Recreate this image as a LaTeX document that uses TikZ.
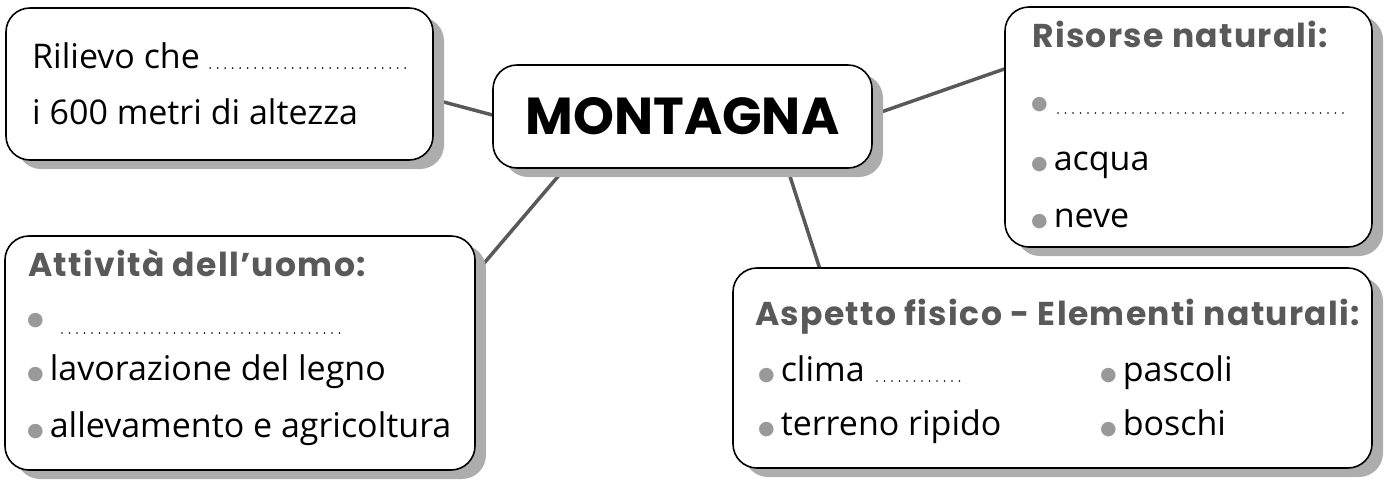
\documentclass[tikz,border=0pt]{standalone}
\usepackage{fontspec}
\setmainfont{Open Sans}
\newfontfamily\headfont[LetterSpace=4]{Poppins}
\newfontfamily\montfont{Poppins}
\newfontfamily\symfont{DejaVu Sans}
\usetikzlibrary{shadows,calc}
\pgfdeclarelayer{background}
\pgfsetlayers{background,main}
\newcommand\bul{{\color{black!40}\symfont\fontsize{19}{19}\selectfont\raisebox{0.5pt}{●}}\hspace{6pt}}
\tikzset{
  box/.style={draw=black, line width=1.6pt, rounded corners=24pt, fill=white,
    drop shadow={shadow xshift=11pt, shadow yshift=-9pt, fill=black!32, opacity=1},
    inner sep=0pt},
  link/.style={draw=black!65, line width=3.5pt},
  txt/.style={anchor=base west, inner sep=0pt, font=\fontsize{34}{34}\selectfont},
  head/.style={anchor=base west, inner sep=0pt, font=\headfont\bfseries\fontsize{33}{33}\selectfont, text=black!65},
  dotline/.style={draw=black, line width=1.8pt, line cap=round, dash pattern=on 0pt off 7.5pt},
}
\begin{document}
\begin{tikzpicture}[x=1pt,y=-1pt]
\useasboundingbox (0,0) rectangle (1388,483);
% boxes
\node[box, minimum width=427pt, minimum height=152pt] (ril) at (219.5,84) {};
\node[box, minimum width=379pt, minimum height=103pt,
      font=\montfont\bfseries\fontsize{52}{52}\selectfont] (mont) at (682.5,116.5) {MONTAGNA};
\node[box, minimum width=367pt, minimum height=240pt] (ris) at (1188.5,127) {};
\node[box, minimum width=470pt, minimum height=234pt] (att) at (240,353) {};
\node[box, minimum width=639pt, minimum height=200pt] (asp) at (1052.5,368) {};
% connectors
\begin{pgfonlayer}{background}
\draw[link] ($(ril.north east)!0.6!(ril.south east)$) -- ($(mont.north west)!0.485!(mont.south west)$);
\draw[link] ($(mont.north east)!0.485!(mont.south east)$) -- ($(ris.north west)!0.26!(ris.south west)$);
\draw[link] ($(mont.south west)!0.19!(mont.south east)$) -- ($(att.north east)!0.16!(att.south east)$);
\draw[link] ($(mont.south west)!0.776!(mont.south east)$) -- ($(asp.north west)!0.136!(asp.north east)$);
\end{pgfonlayer}
% end points of the dotted blanks
\coordinate (e1) at (410,0);
\coordinate (e2) at (1347,0);
\coordinate (e3) at (347,0);
\coordinate (e4) at (962,0);
% rilievo texts
\node[txt] (r1) at (32,68) {Rilievo che};
\draw[dotline] ([xshift=10pt]r1.base east) -- (r1.base east -| e1);
\node[txt] (r2) at (32,124) {i 600 metri di altezza};
% risorse texts
\node[head] (h1) at (1032,47) {Risorse naturali:};
\node[txt] (s1) at (1031,110) {\bul};
\coordinate (s1d) at (1058,113);
\draw[dotline] (s1d) -- (s1d -| e2);
\node[txt] (s2) at (1031,170) {\bul acqua};
\node[txt] (s3) at (1031,227) {\bul neve};
% attivita texts
\node[head] (h2) at (28,276) {Attività dell’uomo:};
\node[txt] (a1) at (27,326) {\bul};
\coordinate (a1d) at (62,333);
\draw[dotline] (a1d) -- (a1d -| e3);
\node[txt] (a2) at (27,380) {\bul lavorazione del legno};
\node[txt] (a3) at (27,437) {\bul allevamento e agricoltura};
% aspetto texts
\node[head] (h3) at (755,325) {Aspetto fisico - Elementi naturali:};
\node[txt] (p1) at (758,381) {\bul clima};
\draw[dotline] ([xshift=12pt]p1.base east) -- (p1.base east -| e4);
\node[txt] (p2) at (758,435) {\bul terreno ripido};
\node[txt] (p3) at (1100,381) {\bul pascoli};
\node[txt] (p4) at (1100,435) {\bul boschi};
\end{tikzpicture}
\end{document}
